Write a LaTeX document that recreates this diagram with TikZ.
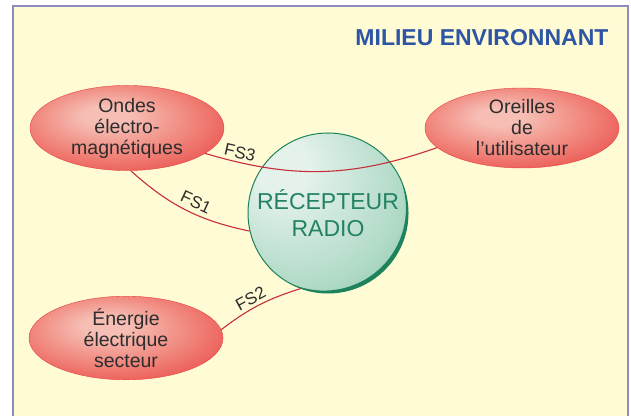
\documentclass[tikz,border=0pt]{standalone}
\usepackage{fontspec}
\setmainfont{Liberation Sans}
\usepackage{xcolor}
\usetikzlibrary{shapes.geometric}

\definecolor{bgcream}{RGB}{255,251,212}
\definecolor{framegray}{RGB}{140,140,195}
\definecolor{titleblue}{RGB}{45,85,165}
\definecolor{linkred}{RGB}{200,45,60}
\definecolor{textgray}{RGB}{45,45,45}
\definecolor{radiogreen}{RGB}{35,130,100}
\definecolor{rimgreen}{RGB}{30,130,90}
\definecolor{redlight}{RGB}{246,190,180}
\definecolor{redmid}{RGB}{240,128,118}
\definecolor{reddark}{RGB}{232,64,64}
\definecolor{reddeep}{RGB}{216,36,42}
\definecolor{sphlight}{RGB}{228,242,235}
\definecolor{sphmid}{RGB}{176,218,199}
\definecolor{sphdark}{RGB}{104,175,145}
\definecolor{sphdeep}{RGB}{74,155,118}

\pgfdeclareradialshading{redball}{\pgfpoint{-6bp}{8bp}}{%
  color(0bp)=(redlight); color(6bp)=(redlight); color(22bp)=(redmid);
  color(38bp)=(reddark); color(58bp)=(reddeep)}
\pgfdeclareradialshading{greenball}{\pgfpoint{-16bp}{16bp}}{%
  color(0bp)=(sphlight); color(8bp)=(sphlight); color(32bp)=(sphmid);
  color(54bp)=(sphdark); color(72bp)=(sphdeep)}

\begin{document}
\begin{tikzpicture}[x=1pt, y=1pt,
  blob/.style={ellipse, shading=redball, draw=reddark, line width=0.4pt,
    minimum width=194pt, minimum height=80pt, inner sep=0pt, align=center,
    text=textgray, font=\fontsize{19.5}{21}\selectfont},
  ball/.style={circle, shading=greenball, draw=rimgreen, line width=1pt,
    minimum size=160pt, inner sep=0pt, align=center, text=radiogreen,
    font=\fontsize{23}{27}\selectfont},
  link/.style={linkred, line width=1.1pt},
  fslabel/.style={text=textgray, font=\fontsize{17}{17}\selectfont, inner sep=3pt}]
  \useasboundingbox (0,0) rectangle (631,415);
  % Page and frame
  \fill[white] (0,0) rectangle (631,415);
  \draw[framegray, fill=bgcream, line width=1.2pt] (13,409) rectangle (628,-10);
  \node[anchor=base east, text=titleblue, font=\fontsize{23}{23}\selectfont\bfseries]
    (titre) at (612,369) {MILIEU ENVIRONNANT};

  % Receiver and surroundings
  \node[ball] (radio) at (328,202) {RÉCEPTEUR\\RADIO};
  \fill[rimgreen] ([shift={(20:80)}]radio.center)
    arc[start angle=20, end angle=-120, radius=80pt]
    arc[start angle=-116, end angle=16.5, radius=82pt] -- cycle;
  \node[blob] (ondes) at (127,287) {Ondes\\électro-\\magnétiques};
  \node[blob] (oreilles) at (522,287) {Oreilles\\de\\l’utilisateur};
  \node[blob] (energie) at (126,77) {Énergie\\électrique\\secteur};

  % Service functions
  \draw[link] (ondes.-18) to[bend right=18]
    node[fslabel, pos=0.13, above, sloped] (fs3) {FS3} (oreilles.193);
  \draw[link] (ondes.-85) to[bend right=15]
    node[fslabel, pos=0.55, above=2pt, sloped] (fs1) {FS1} (radio.193);
  \draw[link] (energie.5) to[bend left=10]
    node[fslabel, pos=0.45, above, sloped] (fs2) {FS2} (radio.250);
\end{tikzpicture}
\end{document}
